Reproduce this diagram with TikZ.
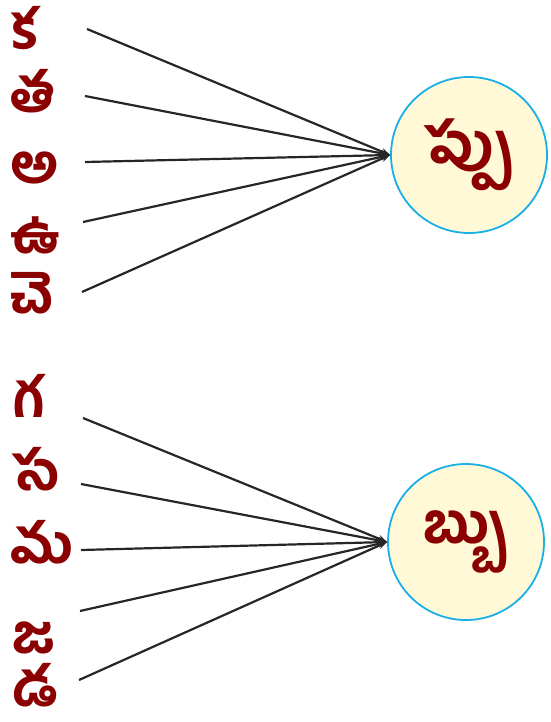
\documentclass[tikz,border=0pt]{standalone}
\usepackage{fontspec}
\newfontfamily\telugu[Script=Telugu, BoldFont={Hind Guntur Bold}]{Hind Guntur}
\usetikzlibrary{arrows.meta}
\definecolor{letterred}{HTML}{8B0000}
\definecolor{ringblue}{HTML}{1AAFE6}
\definecolor{ringfill}{HTML}{FFF9D7}
\tikzset{
  letter/.style={text=letterred, font=\telugu\bfseries\fontsize{54}{60}\selectfont, inner sep=0pt,
    text height=32pt, text depth=2pt, anchor=base west},
  ending/.style={circle, draw=ringblue, line width=1.8pt, fill=ringfill, minimum size=156pt,
    text=letterred, font=\telugu\bfseries\fontsize{56}{60}\selectfont, inner sep=0pt},
  link/.style={-{Stealth[length=9pt, width=7pt]}, line width=2.2pt, draw=black!85}
}
\begin{document}
\begin{tikzpicture}[x=1pt, y=-1pt]
  \useasboundingbox (0,0) rectangle (550,722);

  % top group: words ending in ppu
  \node[ending] (ppu) at (469,155) {ప్పు};
  \node[letter] (ka) at (10,50) {క};
  \node[letter] (ta) at (10,113) {త};
  \node[letter] (a) at (10,183) {అ};
  \node[letter] (u) at (10,253) {ఉ};
  \node[letter] (che) at (10,313) {చె};

  \coordinate (ka-end) at (87,29);
  \coordinate (ta-end) at (85,96);
  \coordinate (a-end) at (85,162);
  \coordinate (u-end) at (83,222);
  \coordinate (che-end) at (82,292);

  \draw[link] (ka-end) -- (ppu.west);
  \draw[link] (ta-end) -- (ppu.west);
  \draw[link] (a-end) -- (ppu.west);
  \draw[link] (u-end) -- (ppu.west);
  \draw[link] (che-end) -- (ppu.west);

  % bottom group: words ending in bbu
  \node[ending] (bbu) at (466,542) {బ్బు};
  \node[letter] (ga) at (13,417) {గ};
  \node[letter] (sa) at (12,490) {స};
  \node[letter] (ma) at (10,563) {మ};
  \node[letter] (ja) at (12,653) {జ};
  \node[letter] (da) at (12,706) {డ};

  \coordinate (ga-end) at (83,418);
  \coordinate (sa-end) at (81,484);
  \coordinate (ma-end) at (81,550);
  \coordinate (ja-end) at (80,611);
  \coordinate (da-end) at (79,680);

  \draw[link] (ga-end) -- (bbu.west);
  \draw[link] (sa-end) -- (bbu.west);
  \draw[link] (ma-end) -- (bbu.west);
  \draw[link] (ja-end) -- (bbu.west);
  \draw[link] (da-end) -- (bbu.west);
\end{tikzpicture}
\end{document}
